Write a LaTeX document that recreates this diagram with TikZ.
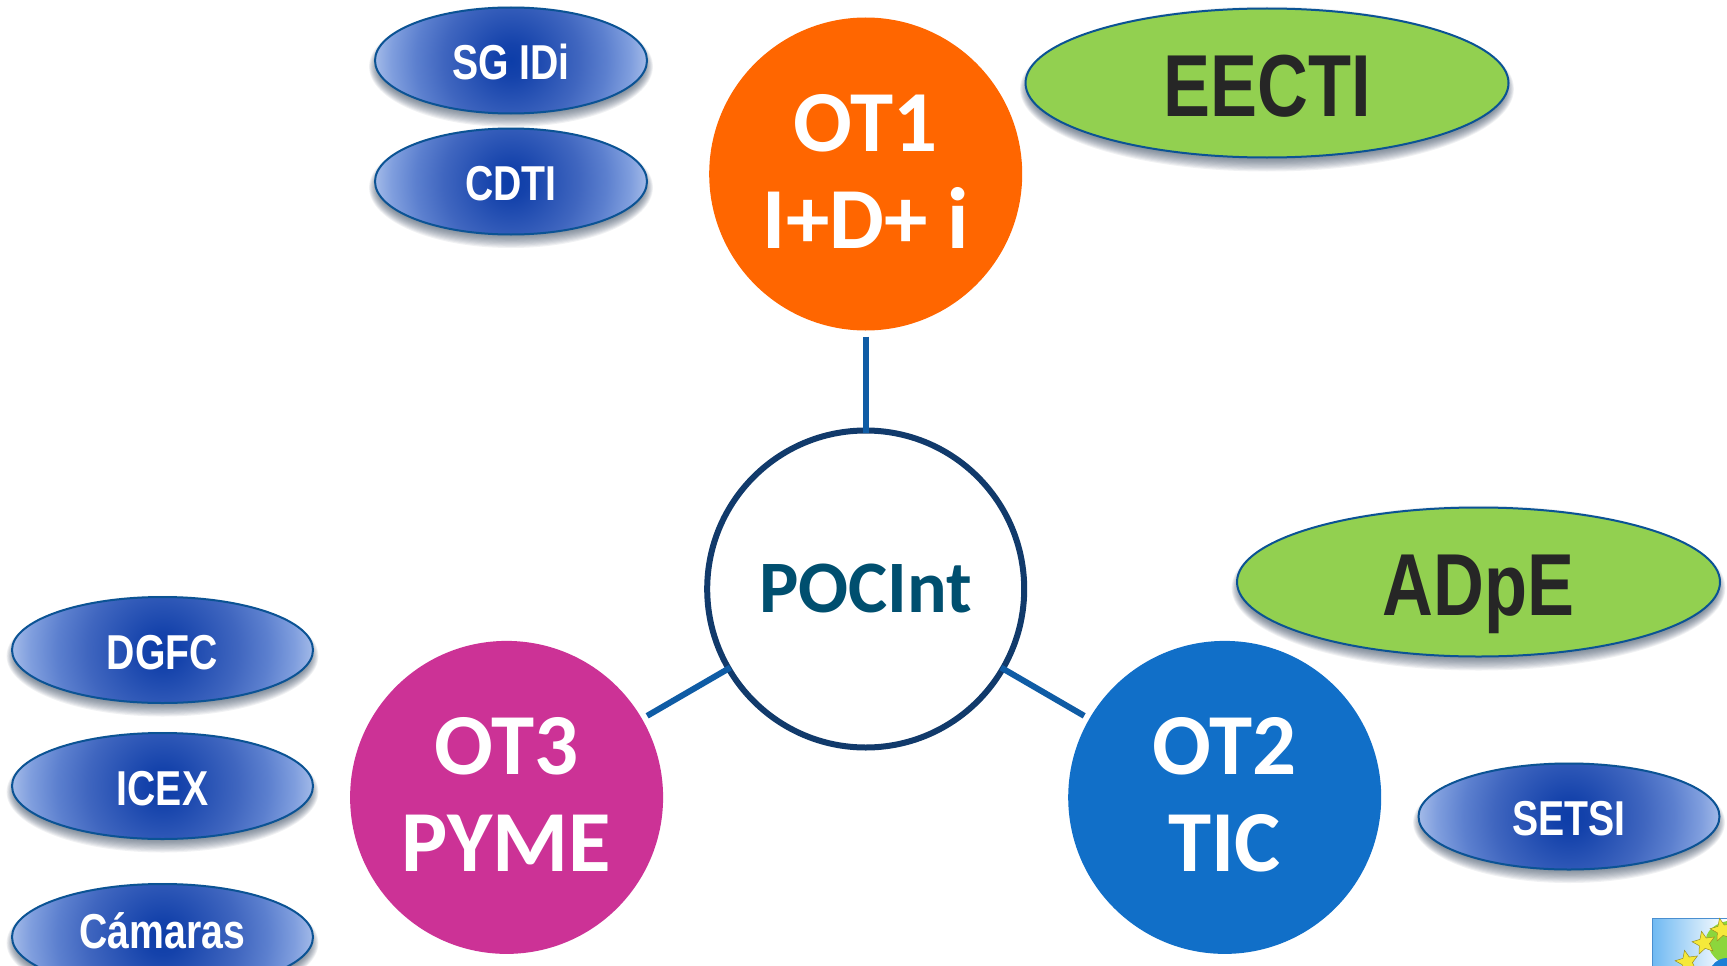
\documentclass[tikz,border=0pt]{standalone}
\usepackage{fontspec}
\usetikzlibrary{shapes.geometric}
\setmainfont{Carlito}
\newfontfamily\narrowsans[FakeStretch=0.8]{Liberation Sans}
\definecolor{otorange}{HTML}{FF6600}
\definecolor{otpink}{HTML}{CC3296}
\definecolor{otblue}{HTML}{116FC8}
\definecolor{ovalgreen}{HTML}{92D050}
\definecolor{ovalline}{HTML}{0B5394}
\definecolor{darktext}{HTML}{262626}
\definecolor{poctext}{HTML}{004F6F}
\definecolor{pocline}{HTML}{113A6B}
\definecolor{linkline}{HTML}{0F5CA5}
\definecolor{shadowc}{HTML}{33465E}
\definecolor{logosky}{HTML}{6FB9F2}
\definecolor{logoedge}{HTML}{4A8FD0}
\definecolor{logogreen}{HTML}{8CD63C}
\definecolor{logoblue}{HTML}{1C7FD6}
\definecolor{logostar}{HTML}{F5E93A}
\definecolor{logostarline}{HTML}{9A8F20}
\pgfdeclareradialshading{ovalshade}{\pgfpointorigin}{%
  rgb(0bp)=(0.05,0.24,0.66);
  rgb(3bp)=(0.08,0.26,0.67);
  rgb(12.5bp)=(0.25,0.40,0.75);
  rgb(17.5bp)=(0.36,0.50,0.81);
  rgb(22bp)=(0.50,0.62,0.87);
  rgb(25bp)=(0.64,0.73,0.91);
  rgb(50bp)=(0.64,0.73,0.91)}
\newcommand{\softshadow}[4]{%
  \foreach \d in {7,5.8,...,-5}{
    \fill[shadowc,opacity=0.07] (#1,#2+6) ellipse [x radius=#3+0.7*\d, y radius=#4+\d];
  }}
\newcommand{\lift}{\rule[-6pt]{0pt}{6pt}}
\tikzset{
  blueoval/.style={ellipse,draw=ovalline,line width=2pt,inner sep=0pt,outer sep=0pt,
    minimum width=301pt,minimum height=106pt,text=white,
    font=\narrowsans\bfseries\fontsize{49}{52}\selectfont,
    execute at begin node={\rule{0pt}{39pt}},
    path picture={\shade[shading=ovalshade] (path picture bounding box.center) circle (150.5pt);}},
  smalloval/.style={blueoval,minimum width=272pt,
    path picture={\shade[shading=ovalshade] (path picture bounding box.center) circle (136pt);}},
  greenoval/.style={ellipse,draw=ovalline,line width=2pt,fill=ovalgreen,inner sep=0pt,outer sep=0pt,
    minimum width=483pt,minimum height=149pt,text=darktext,
    font=\narrowsans\bfseries\fontsize{88}{92}\selectfont},
  otcircle/.style={circle,inner sep=0pt,outer sep=0pt,minimum size=313pt,text=white,align=center,
    font=\bfseries\fontsize{87}{97}\selectfont},
  poccircle/.style={circle,draw=pocline,line width=6pt,fill=white,inner sep=0pt,outer sep=0pt,
    minimum size=317pt,text=poctext,font=\bfseries\fontsize{74}{80}\selectfont},
  link/.style={draw=linkline,line width=6pt,shorten <=6pt,shorten >=-2pt},
  eustar/.style={star,star points=5,star point ratio=2.2,fill=logostar,draw=logostarline,
    line width=.5pt,inner sep=0pt,minimum size=24pt,rotate=12}
}
\begin{document}
\begin{tikzpicture}[x=1pt,y=-1pt]
\clip (0,0) rectangle (1727,966);
\fill[white] (0,0) rectangle (1727,966);
% shadows
\softshadow{511}{60.5}{137}{53.5}
\softshadow{511}{181.5}{137}{53.5}
\softshadow{1267}{83}{242}{75.5}
\softshadow{1478.5}{582}{242}{75.5}
\softshadow{1569}{816.5}{151}{53.5}
\softshadow{162.5}{650}{151}{53.5}
\softshadow{162.5}{786}{151}{53.5}
\softshadow{162.5}{937}{151}{53.5}
% circles
\node[otcircle,fill=otorange] (ot1) at (865.7,174) {OT1\\I+D+ i\lift};
\node[otcircle,fill=otpink] (ot3) at (506.6,797.4) {OT3\\PYME\lift};
\node[otcircle,fill=otblue] (ot2) at (1224.7,797.4) {OT2\\TIC\lift};
\node[poccircle] (poc) at (865.7,589) {POCInt};
% connectors
\draw[link] (ot1) -- (poc);
\draw[link] (ot3) -- (poc);
\draw[link] (ot2) -- (poc);
% blue ovals
\node[smalloval] (sgidi) at (511,60.5) {SG IDi};
\node[smalloval] (cdti) at (511,181.5) {CDTI};
\node[blueoval] (dgfc) at (162.5,650) {DGFC};
\node[blueoval] (icex) at (162.5,786) {ICEX};
\node[blueoval] (camaras) at (162.5,937) {Cámaras\rule[-16pt]{0pt}{16pt}};
\node[blueoval] (setsi) at (1569,816.5) {SETSI};
% green ovals
\node[greenoval] (eecti) at (1267,83) {\rule{0pt}{67pt}EECTI};
\node[greenoval] (adpe) at (1478.5,582) {\rule{0pt}{85pt}ADpE};
% logo corner
\shade[left color=logosky,right color=white] (1652,918) rectangle (1727,966);
\draw[draw=logoedge,line width=1pt] (1652,966) -- (1652,918) -- (1727,918);
\fill[logogreen] (1727,921) .. controls (1712,924) and (1700,936) .. (1709,948)
  .. controls (1712,956) and (1716,960) .. (1727,966) -- cycle;
\fill[logoblue] (1712,966) .. controls (1716,960) and (1722,958) .. (1727,958) -- (1727,966) -- cycle;
\node[eustar] (s1) at (1722,930) {};
\node[eustar] (s2) at (1704,943) {};
\node[eustar] (s3) at (1687,962) {};
\end{tikzpicture}
\end{document}
